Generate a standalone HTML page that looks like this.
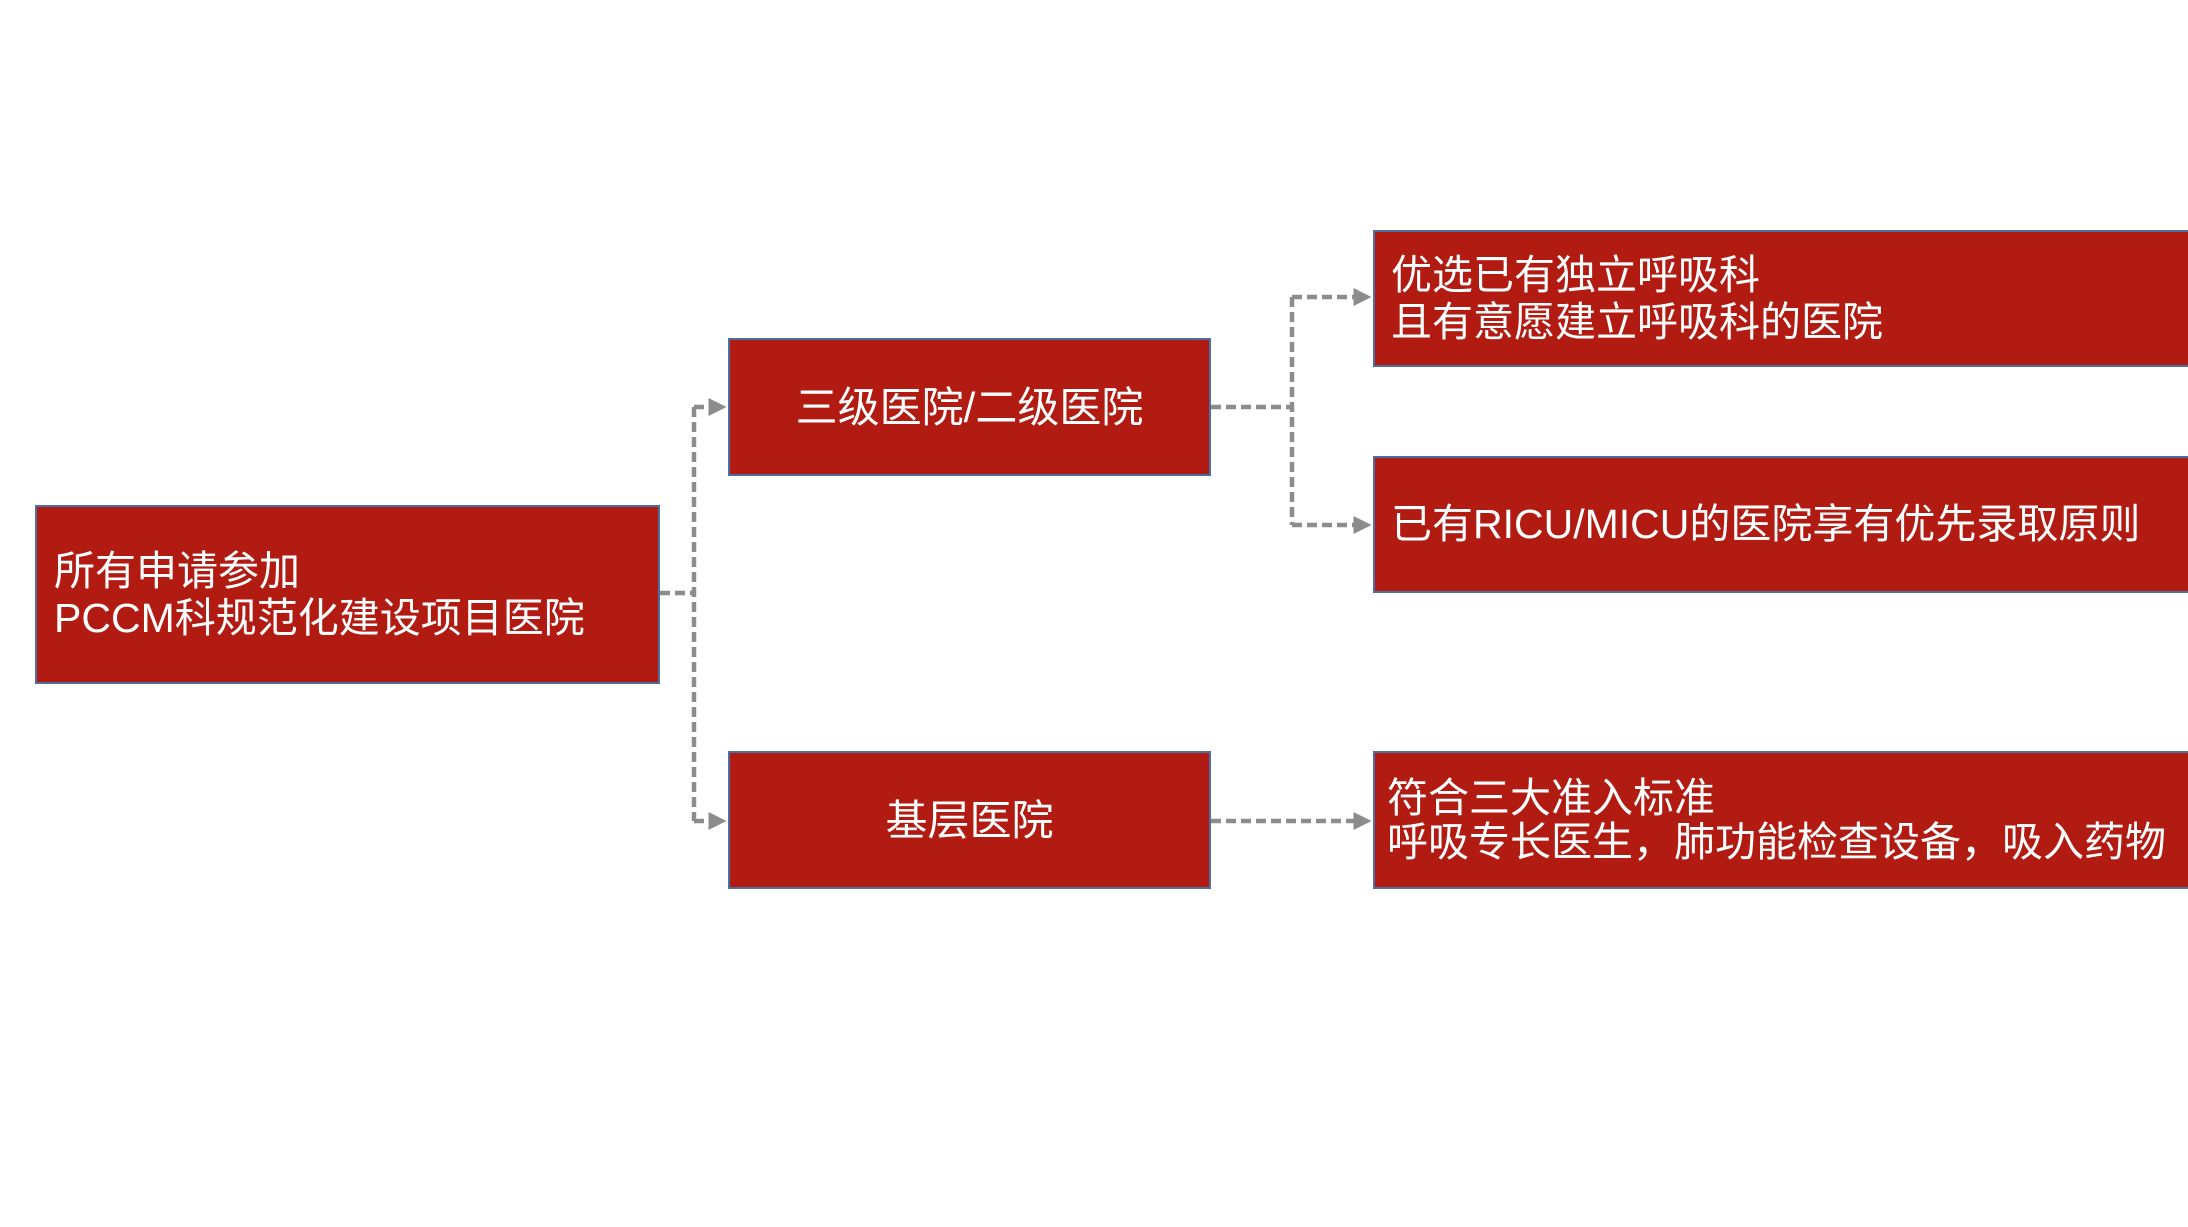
<!DOCTYPE html>
<html><head><meta charset="utf-8"><style>
body{margin:0;width:2188px;height:1227px;background:#fff;position:relative;overflow:hidden;font-family:"Liberation Sans","Noto Sans CJK SC",sans-serif;}
.b{position:absolute;background:#b21b12;border:2px solid #4a6fa0;box-sizing:border-box;color:#fff;font-size:41px;display:flex;flex-direction:column;justify-content:center;line-height:47px;white-space:nowrap;}
.c{align-items:center;}
svg{position:absolute;left:0;top:0;}
</style></head><body>
<svg width="2188" height="1227">
<defs><marker id="a" markerWidth="4" markerHeight="4" refX="3" refY="2" orient="auto"><path d="M0,0L4,2L0,4z" fill="#8c8c8c"/></marker></defs>
<g stroke="#8c8c8c" stroke-width="4.5" fill="none" stroke-dasharray="10,5">
<path d="M660,593H694"/>
<path d="M694,407V821"/>
<path d="M694,407H722" marker-end="url(#a)"/>
<path d="M694,821H722" marker-end="url(#a)"/>
<path d="M1211,407H1292"/>
<path d="M1292,297V525"/>
<path d="M1292,297H1367" marker-end="url(#a)"/>
<path d="M1292,525H1367" marker-end="url(#a)"/>
<path d="M1211,821H1367" marker-end="url(#a)"/>
</g></svg>
<div class="b" style="left:35px;top:505px;width:625px;height:179px;padding-left:17px;"><div>所有申请参加</div><div>PCCM科规范化建设项目医院</div></div>
<div class="b c" style="left:728px;top:338px;width:483px;height:138px;font-size:42px;">三级医院/二级医院</div>
<div class="b c" style="left:728px;top:751px;width:483px;height:138px;font-size:42px;">基层医院</div>
<div class="b" style="left:1373px;top:230px;width:830px;height:137px;padding-left:16px;"><div>优选已有独立呼吸科</div><div>且有意愿建立呼吸科的医院</div></div>
<div class="b" style="left:1373px;top:456px;width:830px;height:137px;padding-left:16px;"><div>已有RICU/MICU的医院享有优先录取原则</div></div>
<div class="b" style="left:1373px;top:751px;width:830px;height:138px;padding-left:12px;line-height:44px;"><div>符合三大准入标准</div><div>呼吸专长医生，肺功能检查设备，吸入药物</div></div>
</body></html>
